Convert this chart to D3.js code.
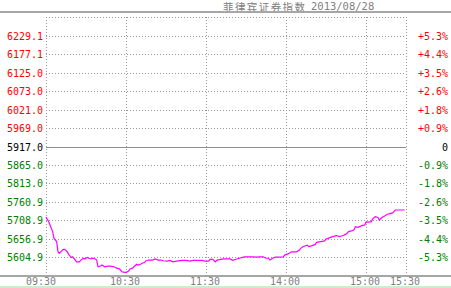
<!DOCTYPE html>
<html>
<head>
<meta charset="utf-8">
<script src="https://cdn.jsdelivr.net/npm/d3@7"></script>
<style>
html,body{margin:0;padding:0;background:#fff;overflow:hidden;}
svg{display:block;}
</style>
</head>
<body>
<svg id="chart" width="451" height="288"></svg>
<script>
// ---- data ----
const titleName = "菲律宾证券指数";
const titleDate = "2013/08/28";
const baseValue = 5917.0;
const priceTicks = [6229.1, 6177.1, 6125.0, 6073.0, 6021.0, 5969.0, 5917.0, 5865.0, 5813.0, 5760.9, 5708.9, 5656.9, 5604.9];
const pctTicks = ["+5.3%", "+4.4%", "+3.5%", "+2.6%", "+1.8%", "+0.9%", "0", "-0.9%", "-1.8%", "-2.6%", "-3.5%", "-4.4%", "-5.3%"];
const timeTickMinutes = [0, 60, 120, 180, 240, 270];
const timeTickLabels = ["09:30", "10:30", "11:30", "14:00", "15:00", "15:30"];
const minutes = [0,2,3,5,6,8,9,10,11,13,14,16,17,19,20,22,23,25,26,28,29,31,32,34,35,37,38,39,41,42,44,46,48,51,53,55,57,59,60,62,63,65,66,68,69,71,72,74,75,77,80,82,84,86,88,91,93,95,98,102,105,108,110,117,119,122,123,125,127,128,130,133,138,140,143,145,148,149,155,158,160,163,165,167,168,170,172,175,178,179,182,184,188,190,191,193,196,197,199,202,203,206,209,210,213,215,218,220,223,225,227,229,231,232,234,237,239,240,242,244,245,247,249,250,252,254,256,258,260,262,265,269];
const prices = [5718.5,5705,5696,5677,5658,5649,5620,5616,5620,5627,5627,5620,5613,5604,5606,5597,5592,5592,5596,5602,5600,5604,5602,5600,5602,5600,5597,5578,5580,5583,5578,5580,5580,5578,5574,5572,5564,5562,5562,5566,5572,5574,5578,5585,5583,5585,5588,5590,5595,5597,5597,5600,5597,5597,5595,5594,5596,5592,5594,5596,5596,5594,5596,5596,5594,5594,5599,5599,5592,5596,5598,5600,5600,5596,5600,5602,5605,5606,5606,5605,5606,5606,5602,5602,5597,5602,5605,5605,5606,5611,5615,5620,5620,5625,5630,5635,5639,5635,5637,5641,5647,5649,5651,5656,5660,5663,5666,5663,5666,5670,5677,5679,5682,5691,5689,5694,5696,5704,5704,5705,5713,5719,5717,5710,5717,5721,5726,5728,5730,5738,5738,5738];

// ---- layout ----
const W = 451, H = 288;
const plotL = 46, plotR = 406, plotT = 17, plotB = 276;
const svg = d3.select("#chart");
const monoFont = "'DejaVu Sans Mono', monospace";
const gridColor = "#999999";

const x = d3.scaleLinear().domain([0, 270]).range([plotL, plotR]);
const y = d3.scaleLinear().domain([5552, 6282]).range([plotB, plotT]);

svg.append("rect").attr("width", W).attr("height", H).attr("fill", "#ffffff");

// title
svg.append("text").attr("x", 223).attr("y", 10.5)
  .attr("font-family", "'Noto Sans CJK SC', sans-serif").attr("font-size", 10.5)
  .attr("textLength", 82).attr("lengthAdjust", "spacing")
  .attr("fill", "#808080").text(titleName);
svg.append("text").attr("x", 311).attr("y", 10)
  .attr("font-family", monoFont).attr("font-size", 10.5)
  .attr("fill", "#808080").text(titleDate);

// top separator
svg.append("rect").attr("x", 0).attr("y", 11).attr("width", W).attr("height", 2).attr("fill", "#a6a6a6");

// plot frame (dotted)
const crisp = v => Math.round(v) + 0.5;
svg.append("line").attr("x1", plotL).attr("x2", plotR + 1).attr("y1", crisp(plotT)).attr("y2", crisp(plotT))
  .attr("stroke", gridColor).attr("stroke-dasharray", "1,2");

// vertical grid lines
svg.append("g").selectAll("line").data(timeTickMinutes).join("line")
  .attr("x1", d => crisp(x(d))).attr("x2", d => crisp(x(d)))
  .attr("y1", plotT).attr("y2", plotB)
  .attr("stroke", gridColor).attr("stroke-dasharray", "1,2");

// horizontal grid lines
svg.append("g").selectAll("line").data(priceTicks).join("line")
  .attr("x1", plotL).attr("x2", plotR)
  .attr("y1", d => crisp(y(d))).attr("y2", d => crisp(y(d)))
  .attr("stroke", d => d === baseValue ? "#8c8c8c" : gridColor)
  .attr("stroke-dasharray", d => d === baseValue ? null : "1,2");

const colorFor = v => v > baseValue ? "#ff0000" : (v < baseValue ? "#008000" : "#000000");

// left labels
svg.append("g").selectAll("text").data(priceTicks).join("text")
  .attr("x", 43).attr("y", d => y(d) + 4)
  .attr("text-anchor", "end")
  .attr("font-family", monoFont).attr("font-size", 10)
  .attr("fill", d => colorFor(d))
  .text(d => d.toFixed(1));

// right labels
svg.append("g").selectAll("text").data(priceTicks).join("text")
  .attr("x", 448).attr("y", d => y(d) + 4)
  .attr("text-anchor", "end")
  .attr("font-family", monoFont).attr("font-size", 10)
  .attr("fill", d => colorFor(d))
  .text((d, i) => pctTicks[i]);

// bottom axis line
svg.append("rect").attr("x", 0).attr("y", 275).attr("width", W).attr("height", 2).attr("fill", "#a6a6a6");

// time labels
svg.append("g").selectAll("text").data(timeTickMinutes).join("text")
  .attr("x", (d, i) => x(d) - (i === 0 ? 5 : 1)).attr("y", 285)
  .attr("text-anchor", "middle")
  .attr("font-family", monoFont).attr("font-size", 10)
  .attr("fill", "#808080")
  .text((d, i) => timeTickLabels[i]);

// bottom green strip
svg.append("rect").attr("x", 0).attr("y", 286).attr("width", W).attr("height", 2).attr("fill", "#c8f0c8");

// price line
const pts = minutes.map((m, i) => [m, prices[i]]);
svg.append("path").datum(pts)
  .attr("fill", "none").attr("stroke", "#ff00ff").attr("stroke-width", 1.2)
  .attr("d", d3.line().x(d => x(d[0])).y(d => y(d[1])));
</script>
</body>
</html>
